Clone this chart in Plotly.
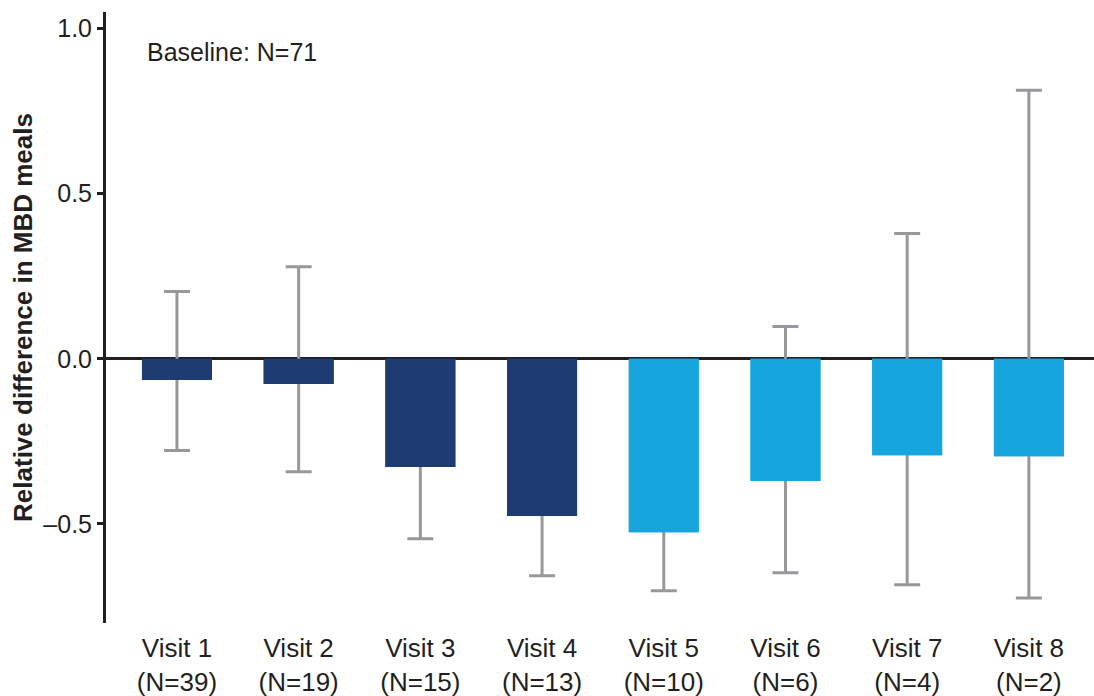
import plotly.graph_objects as go

visits = ["Visit 1", "Visit 2", "Visit 3", "Visit 4", "Visit 5", "Visit 6", "Visit 7", "Visit 8"]
n_counts = [39, 19, 15, 13, 10, 6, 4, 2]
rel_diff = [-0.064, -0.076, -0.328, -0.476, -0.525, -0.370, -0.292, -0.295]
ci_upper = [0.204, 0.279, -0.110, -0.300, -0.350, 0.098, 0.379, 0.813]
ci_lower = [-0.278, -0.342, -0.545, -0.657, -0.702, -0.648, -0.684, -0.724]
bar_colors = ["#1E3C72"] * 4 + ["#18A5DE"] * 4
y_tickvals = [-0.5, 0.0, 0.5, 1.0]
y_ticktext = ["\u20130.5", "0.0", "0.5", "1.0"]
baseline_text = "Baseline: N=71"

labels = [f"{v}<br>(N={n})" for v, n in zip(visits, n_counts)]
err_plus = [u - v for u, v in zip(ci_upper, rel_diff)]
err_minus = [v - l for v, l in zip(rel_diff, ci_lower)]

FONT = "Liberation Sans, Arial, sans-serif"
INK = "#231F20"

fig = go.Figure()
# error bars (drawn first so the bars cover them)
fig.add_trace(go.Bar(
    x=labels, y=rel_diff, marker=dict(color=bar_colors, line=dict(width=0)),
    width=0.575,
    error_y=dict(type="data", symmetric=False, array=err_plus, arrayminus=err_minus,
                 color="#96989B", thickness=3, width=13),
    showlegend=False, hoverinfo="skip",
))
# bars on top
fig.add_trace(go.Bar(
    x=labels, y=rel_diff, marker=dict(color=bar_colors, line=dict(width=0)),
    width=0.575, showlegend=False,
))

fig.update_layout(
    width=1094, height=696,
    margin=dict(l=106, r=0, t=12, b=73),
    barmode="overlay",
    plot_bgcolor="white", paper_bgcolor="white",
    font=dict(family=FONT, color=INK),
    annotations=[dict(
        text=baseline_text, xref="paper", yref="paper", x=0.0395, y=0.935,
        xanchor="left", yanchor="middle", showarrow=False,
        font=dict(size=25, family=FONT, color=INK),
    )],
)
fig.update_xaxes(
    range=[-0.583, 7.535], showline=False, showgrid=False, ticks="",
    tickfont=dict(size=26, family=FONT, color=INK), zeroline=False,
    ticklabelstandoff=7,
)
fig.update_yaxes(
    range=[-0.80, 1.05], showgrid=False,
    showline=True, linecolor=INK, linewidth=3,
    ticks="outside", ticklen=6, tickwidth=2.5, tickcolor=INK,
    tickvals=y_tickvals, ticktext=y_ticktext,
    tickfont=dict(size=25, family=FONT, color=INK),
    zeroline=True, zerolinecolor=INK, zerolinewidth=3,
    layer="above traces",
    title=dict(text="<b>Relative difference in MBD meals</b>",
               font=dict(size=26, family=FONT, color=INK), standoff=4),
)

fig.write_html("out.html", config={"displayModeBar": False},
               post_script="document.body.style.margin='0';")
